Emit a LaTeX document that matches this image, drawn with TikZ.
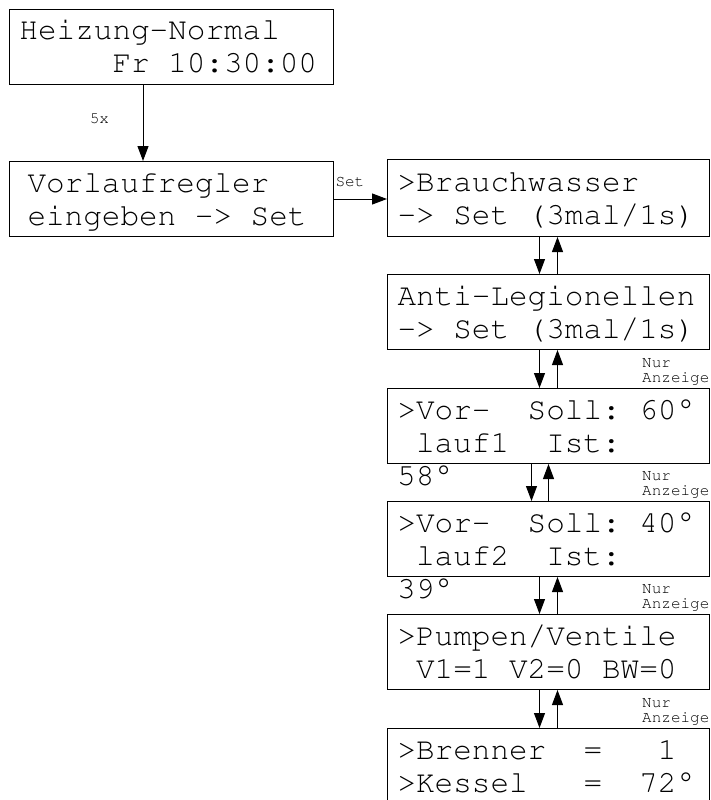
\documentclass[tikz,border=0pt]{standalone}
\usepackage[T1]{fontenc}
\usetikzlibrary{arrows.meta,positioning}
\newcommand{\lcdfont}{\fontfamily{pcr}\selectfont}
\newcommand{\lz}{\hphantom{0}}
\newcommand{\zs}{\rule[-7pt]{0pt}{33pt}}

\begin{document}
\begin{tikzpicture}[x=1pt,y=1pt,
    anzeige/.style={draw, line width=1pt, anchor=north west, inner xsep=10pt, inner ysep=0pt,
        text width=302pt, minimum height=75pt, align=left,
        font=\lcdfont\fontsize{31}{33}\selectfont},
    rest/.style={inner sep=0pt, anchor=base west, font=\lcdfont\fontsize{31}{33}\selectfont},
    klein/.style={inner sep=0pt, align=left, font=\lcdfont\fontsize{16}{15.5}\selectfont},
    pfeil/.style={line width=1pt, -{Triangle[length=15pt,width=11pt]}}]
    \useasboundingbox (0,0) rectangle (711,-800);
    \clip (0,0) rectangle (711,-800);

    % linke Spalte
    \node[anzeige, text width=304pt] (heizung) at (9,-9) {Heizung-Normal\zs\\\lz\lz\lz\lz\lz Fr\lz 10:30:00\zs};
    \node[anzeige, inner xsep=18pt, text width=288pt] (vorlauf) at (9,-161) {Vorlaufregler\zs\\eingeben\lz->\lz Set\zs};

    % rechte Spalte
    \node[anzeige, minimum height=77pt] (brauch) at (387,-159) {>Brauchwasser\zs\\->\lz Set\lz(3mal/1s)\zs};
    \node[anzeige] (legio) at (387,-274) {Anti-Legionellen\zs\\->\lz Set\lz(3mal/1s)\zs};
    \node[anzeige] (vl1) at (387,-388) {>Vor-\lz\lz Soll:\lz 60\textdegree\zs\\\lz lauf1\lz\lz Ist:\zs};
    \node[rest] (ist1) at ([xshift=10pt,yshift=-21.5pt]vl1.south west) {58\textdegree};
    \node[anzeige] (vl2) at (387,-501) {>Vor-\lz\lz Soll:\lz 40\textdegree\zs\\\lz lauf2\lz\lz Ist:\zs};
    \node[rest] (ist2) at ([xshift=10pt,yshift=-21.5pt]vl2.south west) {39\textdegree};
    \node[anzeige] (pumpen) at (387,-614) {>Pumpen/Ventile\zs\\\lz V1=1\lz V2=0\lz BW=0\zs};
    \node[anzeige] (brenner) at (387,-728) {>Brenner\lz\lz=\lz\lz\lz 1\zs\\>Kessel\lz\lz\lz=\lz\lz 72\textdegree\zs};

    % Hinweise
    \node[klein, anchor=south west] (nur1) at ([xshift=255pt,yshift=2.5pt]vl1.north west) {Nur\\Anzeige};
    \node[klein, anchor=south west] (nur2) at ([xshift=255pt,yshift=2.5pt]vl2.north west) {Nur\\Anzeige};
    \node[klein, anchor=south west] (nur3) at ([xshift=255pt,yshift=2.5pt]pumpen.north west) {Nur\\Anzeige};
    \node[klein, anchor=south west] (nur4) at ([xshift=255pt,yshift=2.5pt]brenner.north west) {Nur\\Anzeige};

    % Pfeile
    \draw[pfeil] ([xshift=-28.5pt]heizung.south) -- ([xshift=-28.5pt]vorlauf.north)
        node[klein, midway, anchor=base east, xshift=-33.5pt] {5x};
    \draw[pfeil] (vorlauf.east) -- (vorlauf.east -| brauch.west)
        node[klein, pos=0, anchor=base west, xshift=1pt, yshift=12.5pt] {Set};

    \draw[pfeil] ([xshift=-9pt]brauch.south) -- ([xshift=-9pt]legio.north);
    \draw[pfeil] ([xshift=9pt]legio.north) -- ([xshift=9pt]brauch.south);
    \draw[pfeil] ([xshift=-9pt]legio.south) -- ([xshift=-9pt]vl1.north);
    \draw[pfeil] ([xshift=9pt]vl1.north) -- ([xshift=9pt]legio.south);
    \draw[pfeil] ([xshift=-17pt]vl1.south) -- ([xshift=-17pt]vl2.north);
    \draw[pfeil] (vl2.north) -- (vl1.south);
    \draw[pfeil] ([xshift=-9pt]vl2.south) -- ([xshift=-9pt]pumpen.north);
    \draw[pfeil] ([xshift=9pt]pumpen.north) -- ([xshift=9pt]vl2.south);
    \draw[pfeil] ([xshift=-9pt]pumpen.south) -- ([xshift=-9pt]brenner.north);
    \draw[pfeil] ([xshift=9pt]brenner.north) -- ([xshift=9pt]pumpen.south);
\end{tikzpicture}
\end{document}
